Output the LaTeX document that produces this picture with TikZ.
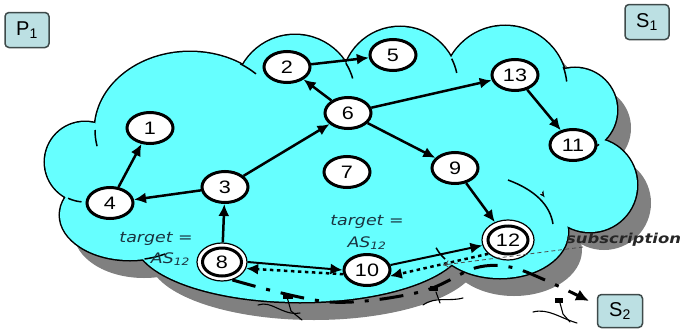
\documentclass[tikz,border=0pt]{standalone}
\usepackage{fontspec}
\setmainfont{Liberation Sans}
\newfontfamily\numfont[FakeStretch=1.2]{Liberation Sans}
\newfontfamily\labfont[FakeStretch=1.2]{DejaVu Sans}
\usetikzlibrary{arrows.meta,shapes.geometric,calc}
\definecolor{cloudcyan}{HTML}{66FFFF}
\definecolor{shadowgray}{HTML}{808080}
\definecolor{boxfill}{HTML}{BCE0E3}
\definecolor{boxline}{HTML}{3E4A4A}
\definecolor{labcol}{HTML}{1A3340}
\tikzset{
  nd/.style={ellipse, draw, line width=3pt, fill=white, minimum width=46pt, minimum height=31pt, inner sep=0pt, font=\numfont\fontsize{18}{18}\selectfont},
  nds/.style={nd, minimum width=39pt, minimum height=28pt},
  ring/.style={ellipse, draw, line width=1.2pt, fill=white, minimum width=50pt, minimum height=38pt, inner sep=0pt},
  pbox/.style={rectangle, rounded corners=4pt, draw=boxline, line width=1.5pt, fill=boxfill, minimum width=44pt, minimum height=35pt, inner sep=0pt, font=\fontsize{20}{20}\selectfont},
  arr/.style={line width=2.5pt, -{Latex[length=12pt,width=11pt]}},
  dotarr/.style={line width=2.5pt, dash pattern=on 3.5pt off 3.5pt, -{Latex[length=12pt,width=11pt]}},
  dasharr/.style={line width=3pt, dash pattern=on 24pt off 11pt on 4pt off 11pt, -{Latex[length=13pt,width=12pt]}},
  lab/.style={font=\labfont\itshape\fontsize{14.5}{15}\selectfont, text=labcol, inner sep=0pt},
  scrib/.style={line width=1.1pt, line cap=round}
}
\def\bumps{190/130/95/78, 85/162/40/40, 130/215/70/45, 300/240/165/62, 295/95/60/60, 400/85/58/58, 505/88/62/62, 575/110/42/42, 590/185/47/47, 500/232/68/46}
\begin{document}
\begin{tikzpicture}[x=1pt,y=-1pt]
\useasboundingbox (0,0) rectangle (682,332);
% shadow
\foreach \cx/\cy/\rx/\ry in \bumps {\fill[shadowgray] (\cx+14,\cy+18) ellipse [x radius=\rx, y radius=\ry];}
% outlines
\foreach \cx/\cy/\rx/\ry in \bumps {\draw[line width=3pt] (\cx,\cy) ellipse [x radius=\rx, y radius=\ry];}
% fills
\foreach \cx/\cy/\rx/\ry in \bumps {\fill[cloudcyan] (\cx,\cy) ellipse [x radius=\rx, y radius=\ry];}
\fill[cloudcyan] (350,160) ellipse [x radius=205, y radius=92];
% inner arcs
\foreach \cx/\cy/\rx/\ry/\a/\b in {190/130/95/78/180/168, 190/130/95/78/-58/-46, 85/162/40/40/115/95, 130/215/70/45/78/60, 295/95/60/60/-32/-16, 400/85/58/58/-27/-12, 505/88/62/62/-20/-6, 575/110/42/42/55/78, 500/232/68/46/144/160}
  {\draw[line width=1.5pt] (\cx,\cy) ++({\rx*cos(\a)},{\ry*sin(\a)}) arc[start angle=\a, end angle=\b, x radius=\rx, y radius=\ry];}
\draw[line width=1.5pt] (508,180) .. controls (535,190) and (550,205) .. (553,224);

% boxes
\node[pbox] (p1) at (27,30) {P\textsubscript{1}};
\node[pbox] (s1) at (647,22) {S\textsubscript{1}};
\node[pbox, minimum width=45pt, minimum height=33pt] (s2) at (620,311) {S\textsubscript{2}};

% scribbles
\draw[scrib] (258,305) .. controls (272,300) and (282,316) .. (300,313);
\draw[scrib] (287,297) -- (291,311) -- (302,320);
\fill (283,294) rectangle (293,299);
\draw[scrib] (423,305) .. controls (436,296) and (448,302) .. (463,298);
\draw[scrib] (436,292) -- (440,303);
\fill (430,286) rectangle (438,291);
\draw[scrib] (533,312) .. controls (548,308) and (560,318) .. (577,323);
\draw[scrib] (560,303) -- (563,314) -- (570,322);
\fill (555,298) rectangle (563,303);

% nodes
\node[nd] (n1) at (150,128) {1};
\node[nd] (n2) at (287,67) {2};
\node[nd] (n5) at (393,55) {5};
\node[nd] (n6) at (348,113) {6};
\node[nd] (n13) at (515,75) {13};
\node[nd] (n11) at (573,145) {11};
\node[nd] (n9) at (455,168) {9};
\node[nd] (n7) at (347,172) {7};
\node[nd] (n3) at (225,187) {3};
\node[nd] (n4) at (110,203) {4};
\node[ring] (n8o) at (222,262) {};
\node[nds] (n8) at (222,262) {8};
\node[nd] (n10) at (367,270) {10};
\node[ring, minimum width=52pt, minimum height=40pt] (n12o) at (508,240) {};
\node[nds, minimum width=40pt] (n12) at (508,240) {12};

% edges
\draw[arr] (n4) -- (n1);
\draw[arr] (n3) -- (n4);
\draw[arr] (n3) -- (n6);
\draw[arr] (n6) -- (n2);
\draw[arr] (n2) -- (n5);
\draw[arr] (n6) -- (n13);
\draw[arr] (n13) -- (n11);
\draw[arr] (n6) -- (n9);
\draw[arr] (n9) -- (n12o);
\draw[arr] (n8o) -- (n3);
\draw[arr, line width=2pt] (n8o.east) -- (n10.west);
\draw[arr, line width=2pt] (n10) -- (n12o);
\draw[dotarr] (n12o.215) -- (n10.345);
\draw[dotarr] (n10.190) -- (n8o.345);

% subscription path
\coordinate (dEnd) at (589,301);
\draw[dasharr] plot[smooth, tension=0.55] coordinates {(n8o.-60) (330,302) (420,292) (475,268) (510,267) (545,280) (dEnd)};
\coordinate (subA) at (583,247);
\draw[line width=0.8pt, dash pattern=on 4pt off 3pt, color=black!70, -{To[length=6pt,width=8pt]}] (subA) -- (443,265);

% labels
\node[lab, anchor=east] (t1) at (193,239) {target =};
\node[lab, anchor=east] (t2) at (190,259) {AS\textsubscript{12}};
\node[lab] (t3) at (367,222) {target =};
\node[lab] (t4) at (367,243) {AS\textsubscript{12}};
\node[lab, anchor=west, font=\labfont\bfseries\itshape\fontsize{13.7}{14}\selectfont, text=black!85] (sub) at (566,240) {subscription};
\end{tikzpicture}
\end{document}
